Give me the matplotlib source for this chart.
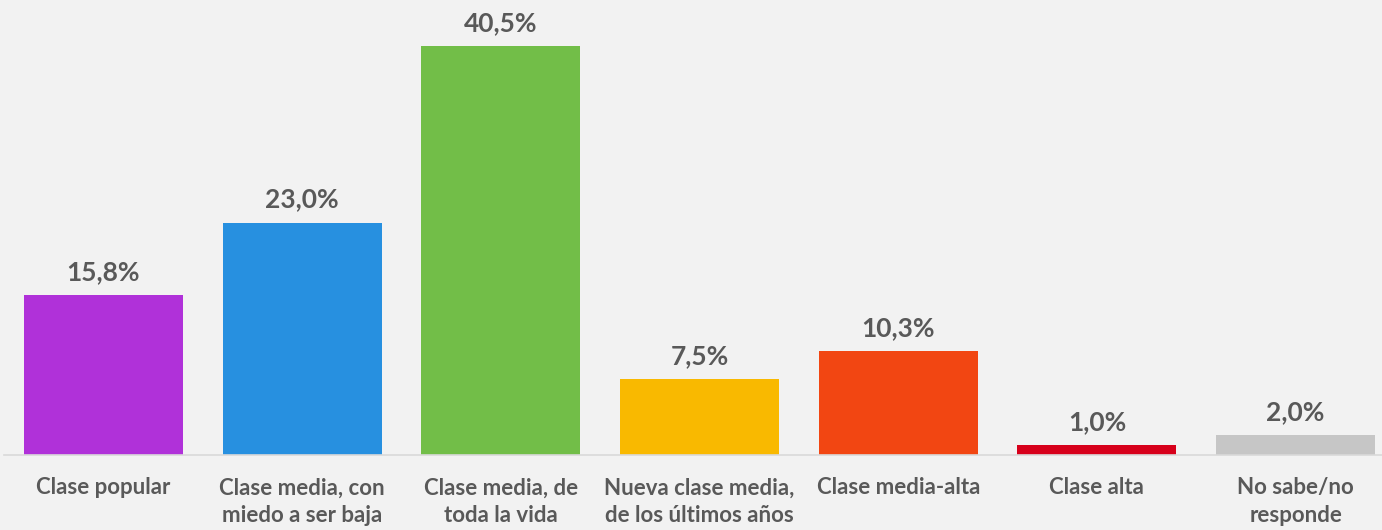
import matplotlib.pyplot as plt

categories = ["Clase popular", "Clase media, con\nmiedo a ser baja", "Clase media, de\ntoda la vida",
              "Nueva clase media,\nde los últimos años", "Clase media-alta", "Clase alta", "No sabe/no\nresponde"]
values = [15.8, 23.0, 40.5, 7.5, 10.3, 1.0, 2.0]
colors = ["#B031D9", "#2790E0", "#72BE48", "#F9B900", "#F24612", "#D7001B", "#C6C6C6"]

plt.rcParams['font.family'] = ['Lato', 'DejaVu Sans']
text_color = '#595959'

W, H = 1382, 530
fig = plt.figure(figsize=(W / 100, H / 100), dpi=100, facecolor='#F2F2F2')
# axes run a little past the right edge, like the original
ax = fig.add_axes([4 / W, (H - 455) / H, 1391 / W, 455 / H])
ax.set_facecolor('#F2F2F2')

x = range(len(values))
bars = ax.bar(x, values, width=0.8, color=colors, zorder=2)
ax.set_xlim(-0.5, len(values) - 0.5)
ax.set_ylim(0, 45.05)

for rect, v in zip(bars, values):
    ax.annotate(f"{v:.1f}%".replace('.', ','), (rect.get_x() + rect.get_width() / 2, v),
                xytext=(0, 8), textcoords='offset points', ha='center', va='bottom',
                fontsize=19, fontweight='bold', color=text_color)

ax.set_xticks(list(x))
ax.set_xticklabels(categories, fontsize=16, fontweight='bold', color=text_color, linespacing=1.4)
ax.tick_params(axis='x', length=0, pad=16)
ax.set_yticks([])

for side in ['top', 'right', 'left']:
    ax.spines[side].set_visible(False)
ax.spines['bottom'].set_color('#D9D9D9')
ax.spines['bottom'].set_linewidth(1.2)

fig.savefig('out.png', dpi=100, facecolor=fig.get_facecolor())
